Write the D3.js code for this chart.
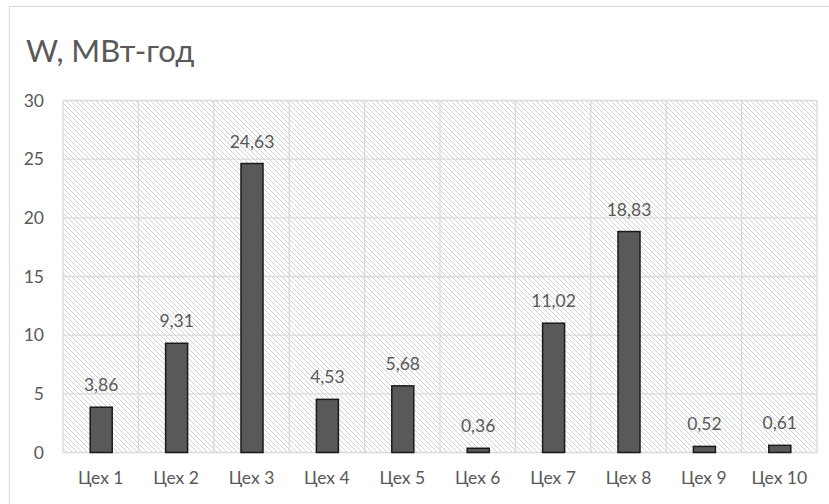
<!DOCTYPE html>
<html><head><meta charset="utf-8">
<script src="https://cdn.jsdelivr.net/npm/d3@7"></script>
<style>body{margin:0;background:#fff}svg{display:block}text{font-family:Lato,"Open Sans",sans-serif;fill:#595959}</style>
</head><body>
<script>
const categories = ["Цех 1","Цех 2","Цех 3","Цех 4","Цех 5","Цех 6","Цех 7","Цех 8","Цех 9","Цех 10"];
const values = [3.86, 9.31, 24.63, 4.53, 5.68, 0.36, 11.02, 18.83, 0.52, 0.61];
const yTicks = [0, 5, 10, 15, 20, 25, 30];
const title = "W, МВт-год";

const W = 829, H = 504;
const svg = d3.select("body").append("svg").attr("width", W).attr("height", H);
const m = {left: 63, right: 12, top: 100.5, bottom: 51.5};

const defs = svg.append("defs");
const pat = defs.append("pattern").attr("id","hatch").attr("patternUnits","userSpaceOnUse")
  .attr("width",5).attr("height",5);
pat.append("rect").attr("width",5).attr("height",5).attr("fill","#fff");
pat.append("path").attr("d","M0,0 L5,5 M-1,4 L1,6 M4,-1 L6,1")
  .attr("stroke","#d2d2d2").attr("stroke-width",1);

// chart border
svg.append("rect").attr("x",9.5).attr("y",6.5).attr("width",W+10).attr("height",H+10)
  .attr("fill","none").attr("stroke","#d9d9d9");

svg.append("text").attr("x",26).attr("y",62).attr("font-size",31).text(title);

const x = d3.scaleBand().domain(categories).range([m.left, W - m.right]).paddingInner(0).paddingOuter(0);
const y = d3.scaleLinear().domain([0,30]).range([H - m.bottom, m.top]);

svg.append("rect").attr("x",m.left).attr("y",m.top).attr("width",x.range()[1]-m.left)
  .attr("height",y(0)-m.top).attr("fill","url(#hatch)");

// horizontal gridlines
svg.append("g").selectAll("line").data(yTicks).join("line")
  .attr("x1",m.left).attr("x2",x.range()[1]).attr("y1",d=>y(d)).attr("y2",d=>y(d))
  .attr("stroke","#d9d9d9").attr("stroke-width",1.3);
// vertical gridlines
const vb = categories.map(c=>x(c)).concat([x.range()[1]]);
svg.append("g").selectAll("line").data(vb).join("line")
  .attr("x1",d=>d).attr("x2",d=>d).attr("y1",m.top).attr("y2",y(0))
  .attr("stroke","#d9d9d9").attr("stroke-width",1.3);

// y axis labels
const yAxis = d3.axisLeft(y).tickValues(yTicks).tickSize(0).tickPadding(19);
const ga = svg.append("g").attr("transform",`translate(${m.left},0)`).call(yAxis);
ga.select(".domain").remove();
ga.selectAll("text").attr("font-size",17.5).style("font-family","Lato").attr("fill","#595959");

// x axis labels
const xAxis = d3.axisBottom(x).tickSize(0).tickPadding(19);
const gx = svg.append("g").attr("transform",`translate(0,${y(0)})`).call(xAxis);
gx.select(".domain").remove();
gx.selectAll("text").attr("font-size",17.5).style("font-family","Lato").attr("fill","#595959");

const bw = 22;
svg.append("g").selectAll("rect").data(values).join("rect")
  .attr("x",(d,i)=>x(categories[i]) + x.bandwidth()/2 - bw/2 + 0.5)
  .attr("y",d=>y(d)).attr("width",bw).attr("height",d=>y(0)-y(d))
  .attr("fill","#595959").attr("stroke","#1a1a1a").attr("stroke-width",1.5);

svg.append("g").selectAll("text").data(values).join("text")
  .attr("x",(d,i)=>x(categories[i]) + x.bandwidth()/2 + 0.5)
  .attr("y",d=>y(d)-16).attr("text-anchor","middle").attr("font-size",17.5)
  .text(d=>d.toFixed(2).replace(".",","));
</script>
</body></html>
